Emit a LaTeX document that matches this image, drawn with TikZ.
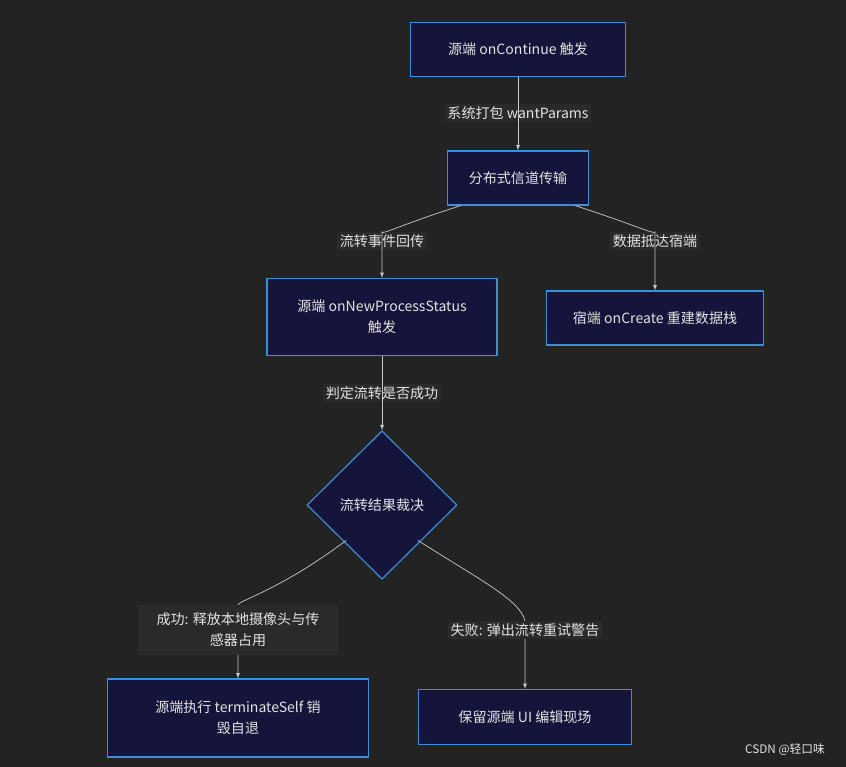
\documentclass[tikz,border=0pt]{standalone}
\usepackage{fontspec}
\setmainfont{Noto Sans CJK SC}
\usetikzlibrary{positioning,shapes.geometric}
\definecolor{bgc}{HTML}{232323}
\definecolor{boxc}{HTML}{15143A}
\definecolor{edgec}{HTML}{3A8FD8}
\definecolor{txtc}{HTML}{E2E2E2}
\definecolor{lblc}{HTML}{2A2A2A}
\definecolor{linec}{HTML}{C8C8C8}
\tikzset{
  stepbox/.style={draw=edgec,fill=boxc,text=txtc,line width=1pt,rectangle,
    minimum height=1.6cm,align=center,font=\fontsize{12}{18}\selectfont},
  choice/.style={draw=edgec,fill=boxc,text=txtc,line width=1pt,diamond,
    minimum width=4.5cm,minimum height=4.45cm,font=\fontsize{12}{18}\selectfont},
  lbl/.style={fill=lblc,text=txtc,align=center,inner sep=2pt,font=\fontsize{12}{18}\selectfont},
  flow/.style={draw=linec,line width=0.6pt,-latex},
}
\begin{document}
\begin{tikzpicture}[x=0.03cm,y=-0.03cm]
\fill[bgc] (0,0) rectangle (846,767);
\useasboundingbox (0,0) rectangle (846,767);
\node[stepbox,minimum width=6.45cm] (start) at (518,49.5) {源端 onContinue 触发};
\node[stepbox,minimum width=4.23cm,minimum height=1.62cm] (chan) at (518,178) {分布式信道传输};
\node[stepbox,minimum width=6.9cm,minimum height=2.31cm] (status) at (382,317) {源端 onNewProcessStatus\\触发};
\node[stepbox,minimum width=6.5cm,minimum height=1.62cm] (create) at (655,318) {宿端 onCreate 重建数据栈};
\node[choice,inner sep=0pt] (judge) at (382,505) {流转结果裁决};
\node[stepbox,minimum width=7.83cm,minimum height=2.34cm] (kill) at (238,718) {源端执行 terminateSelf 销\\毁自退};
\node[stepbox,minimum width=6.4cm,minimum height=1.65cm] (keep) at (525,717) {保留源端 UI 编辑现场};
% edge labels
\node[lbl] (l1) at (518,113) {系统打包 wantParams};
\node[lbl] (l2) at (382,241) {流转事件回传};
\node[lbl] (l3) at (655,241) {数据抵达宿端};
\node[lbl] (l4) at (382,393) {判定流转是否成功};
\node[lbl,minimum width=5.97cm,minimum height=1.5cm] (l5) at (238,630) {成功: 释放本地摄像头与传\\感器占用};
\node[lbl] (l6) at (525,630) {失败: 弹出流转重试警告};
% connectors
\draw[flow] (start) -- (chan);
\draw[flow] (chan.south west) ++(14,0) .. controls (400,225) and (382,235) .. (l2.north) -- (status);
\draw[flow] (chan.south east) ++(-14,0) .. controls (635,225) and (655,235) .. (l3.north) -- (create);
\draw[flow] (status) -- (judge);
\draw[flow] (judge.south west) ++(2,-2) .. controls (280,590) and (240,600) .. (l5.north) (l5.south) -- (kill);
\draw[flow] (judge.south east) ++(-2,-2) .. controls (480,580) and (520,600) .. (l6.north) (l6.south) -- (keep);
\node[text=txtc,font=\fontsize{10}{12}\selectfont] (mark) at (785,750) {CSDN @轻口味};
\end{tikzpicture}
\end{document}
